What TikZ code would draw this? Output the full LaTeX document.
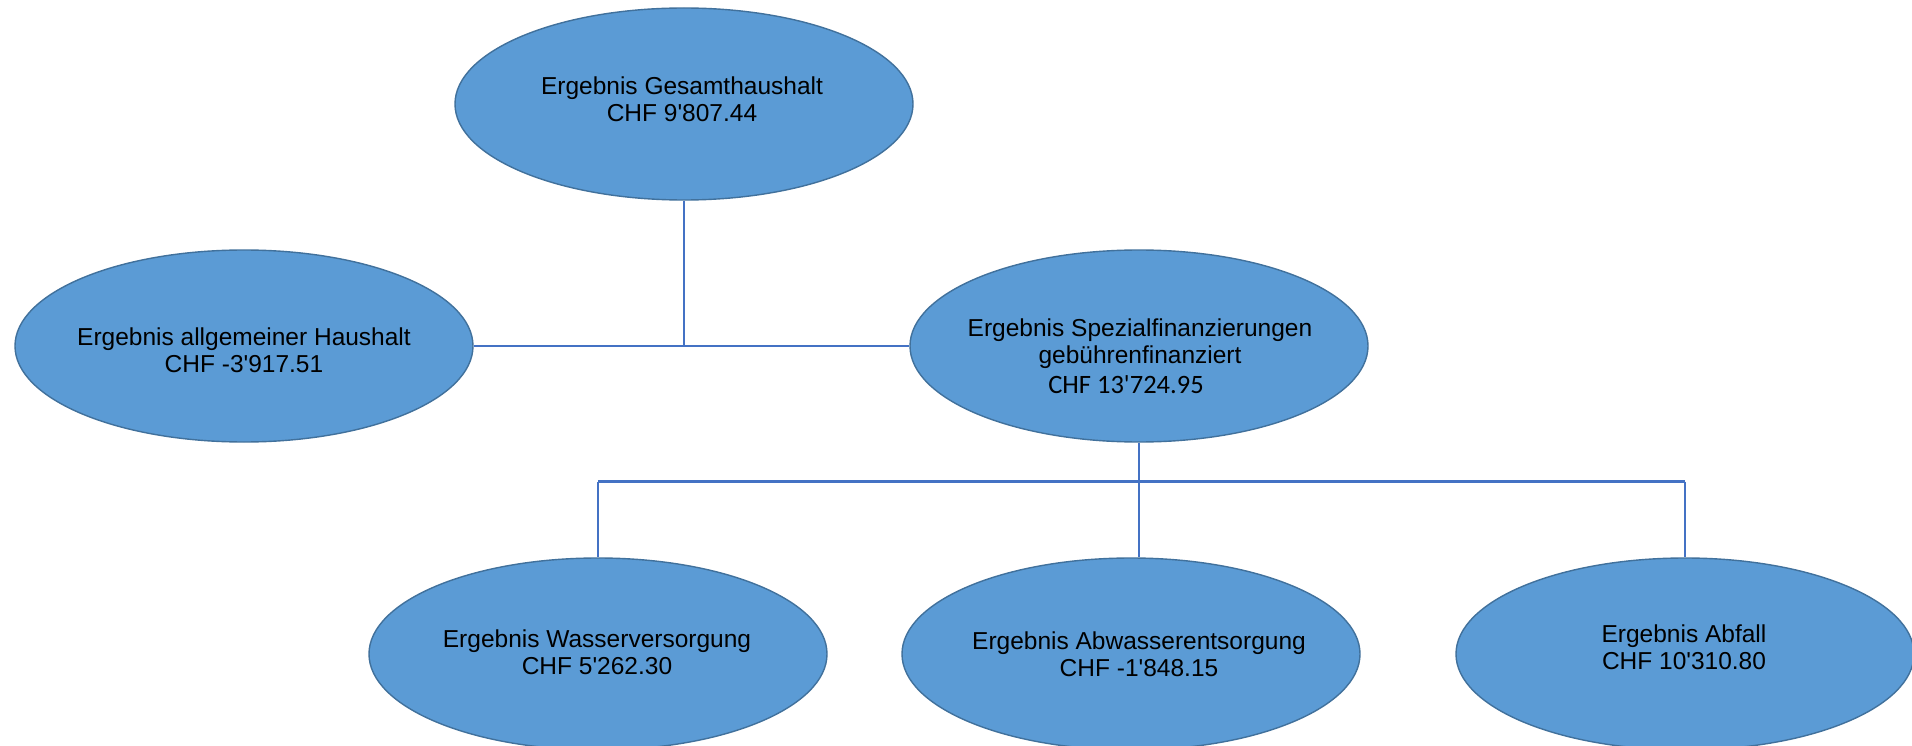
\documentclass[tikz,border=0pt]{standalone}
\usepackage{fontspec}
\newfontfamily\arial{Liberation Sans}
\newfontfamily\calib{Carlito}
\usetikzlibrary{shapes.geometric,calc}
\definecolor{ovfill}{HTML}{5B9BD5}
\definecolor{ovline}{HTML}{41719C}
\definecolor{conn}{HTML}{4472C4}
\tikzset{
  oval/.style={ellipse, fill=ovfill, draw=ovline, line width=1.4pt, inner sep=0pt,
    minimum width=458pt, minimum height=192pt},
  lbl/.style={align=center, inner sep=0pt, font=\arial\fontsize{24.5}{27}\selectfont, anchor=base},
  lblc/.style={inner sep=0pt, font=\calib\fontsize{26.5}{30}\selectfont, anchor=base},
  wire/.style={draw=conn, line width=1.6pt},
  barwire/.style={draw=conn, line width=3pt},
}
\begin{document}
\begin{tikzpicture}[x=1pt,y=-1pt]
\useasboundingbox (0,0) rectangle (1912,746);
\clip (0,0) rectangle (1912,746);
\fill[white] (0,0) rectangle (1912,746);
% ovals
\node[oval] (top) at (684,104) {};
\node[oval] (left) at (244,346) {};
\node[oval] (spez) at (1139,346) {};
\node[oval] (wasser) at (598,654) {};
\node[oval] (abw) at (1131,654) {};
\node[oval] (abfall) at (1685,654) {};
% labels (base = last line)
\node[lbl] (ttop) at (682,122) {Ergebnis Gesamthaushalt\\CHF 9'807.44};
\node[lbl] (tleft) at (244,372) {Ergebnis allgemeiner Haushalt\\CHF -3'917.51};
\node[lbl] (tspez) at (1140,363) {Ergebnis Spezialfinanzierungen\\gebührenfinanziert};
\node[lblc] (tspez2) at (1126,393) {CHF 13'724.95};
\node[lbl] (twasser) at (597,674) {Ergebnis Wasserversorgung\\CHF 5'262.30};
\node[lbl] (tabw) at (1139,676) {Ergebnis Abwasserentsorgung\\CHF -1'848.15};
\node[lbl] (tabfall) at (1684,669) {Ergebnis Abfall\\CHF 10'310.80};
% connectors
\coordinate (ja) at (top.south |- left.east);
\draw[wire] (left.east) -- (spez.west);
\draw[wire] (top.south) -- (ja);
\coordinate (jb) at ($(spez.south)+(0,39)$);
\draw[barwire] (wasser.north |- jb) -- (abfall.north |- jb);
\draw[wire] (spez.south) -- (jb);
\draw[wire] (wasser.north |- jb) -- (wasser.north);
\draw[wire] (jb) -- (jb |- abw.north);
\draw[wire] (abfall.north |- jb) -- (abfall.north);
\end{tikzpicture}
\end{document}
